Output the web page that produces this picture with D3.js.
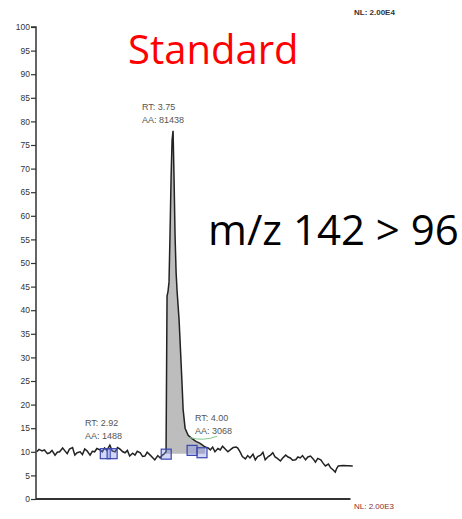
<!DOCTYPE html>
<html><head><meta charset="utf-8">
<script src="https://cdn.jsdelivr.net/npm/d3@7"></script>
<style>body{margin:0;background:#fff}svg{display:block}</style>
</head><body>
<svg id="c" width="462" height="519"></svg>
<script>
// Retention time (min) and relative abundance (%)
const rt = [1.96,1.99,2.03,2.06,2.10,2.13,2.16,2.20,2.23,2.26,2.30,2.33,2.36,2.39,2.43,2.46,2.49,2.53,2.56,2.59,2.62,2.66,2.69,2.72,2.75,2.79,2.82,2.85,2.88,2.92,2.95,2.99,3.02,3.05,3.09,3.12,3.15,3.18,3.22,3.25,3.28,3.32,3.35,3.38,3.41,3.45,3.48,3.51,3.55,3.58,3.61,3.63,
  3.658,3.671,3.684,3.697,3.71,3.724,3.737,3.75,3.763,3.776,3.79,3.803,3.829,3.855,3.869,3.882,3.908,3.948,4.00,4.05,4.106,4.172,
  4.21,4.24,4.27,4.30,4.34,4.37,4.40,4.435,4.47,4.50,4.54,4.58,4.60,4.63,4.66,4.70,4.73,4.76,4.80,4.83,4.86,4.90,4.93,4.96,5.00,5.03,5.06,5.09,5.12,5.16,5.19,5.23,5.26,5.29,5.32,5.36,5.39,5.42,5.45,5.49,5.52,5.555,5.59,5.62,5.65,5.69,5.72,5.75,5.79,5.82,5.85,5.88,5.90,5.92,5.98,6.11];
const abundance = [10.0,10.5,10.2,10.4,9.6,9.8,10.3,9.3,9.9,10.0,10.8,10.2,9.6,10.6,10.9,9.3,9.8,10.0,9.4,10.6,10.2,9.3,10.1,10.0,10.7,10.4,10.0,10.8,10.3,11.4,10.2,10.0,10.9,10.6,10.0,9.8,10.3,9.1,9.7,9.3,10.1,9.8,9.0,9.1,9.9,9.3,8.8,8.3,9.2,8.7,9.3,9.5,
  10.0,43,44,46,56,68,76,78,68,56,48,44,38,29,24,19,15,13.5,12.8,12.2,11.8,11.0,
  10.8,10.4,11.0,10.0,10.7,10.4,11.2,10.6,10.0,10.4,10.9,11.0,10.8,10.0,9.0,8.5,9.2,8.7,9.5,8.3,9.0,9.3,9.9,8.3,9.0,9.3,9.8,8.9,8.6,8.05,8.7,9.3,8.9,8.7,8.2,8.3,8.9,8.7,9.2,8.3,8.9,9.1,8.5,7.8,8.6,8.3,7.6,7.0,7.4,6.6,6.2,5.7,6.5,7.0,7.1,7.0];
const yTicks = d3.range(0, 101, 5);
const peakStart = 3.658, peakEnd = 4.172, peakBase = 9.6;
const peaks = [
  {rt: 3.75, aa: 81438},
  {rt: 2.92, aa: 1488},
  {rt: 4.00, aa: 3068}
];
const markers = [{rt:2.86,v:9.6},{rt:2.95,v:9.6},{rt:3.66,v:9.5},{rt:4.00,v:10.3},{rt:4.13,v:9.8}];

const svg = d3.select("#c");
const x = d3.scaleLinear().domain([1.95, 6.10]).range([36, 352]);
const y = d3.scaleLinear().domain([0, 100]).range([499, 27]);
const axisColor = "#333";

// y axis
const yAxis = d3.axisLeft(y).tickValues(yTicks).tickSize(5).tickPadding(1).tickFormat(d3.format("d"));
const gy = svg.append("g").attr("transform", "translate(36,0)").call(yAxis);
gy.select(".domain").attr("stroke", axisColor).attr("stroke-width", 1.5).attr("d", `M-5,${y(100)}H0V${y(0)}`);
gy.selectAll(".tick line").attr("stroke", axisColor).attr("stroke-width", 1.2);
gy.selectAll(".tick text").attr("font-family", "Liberation Sans, Arial, sans-serif").attr("font-size", 8.5).attr("fill", "#333");

// x axis line
svg.append("line").attr("x1", 36).attr("x2", x(6.08)).attr("y1", y(0)).attr("y2", y(0))
  .attr("stroke", axisColor).attr("stroke-width", 2);

// peak fill
const data = rt.map((t, i) => ({t, v: abundance[i]}));
const peakData = data.filter(d => d.t >= peakStart && d.t <= peakEnd);
svg.append("path").datum(peakData)
  .attr("d", d3.area().x(d => x(d.t)).y0(y(peakBase)).y1(d => y(d.v)))
  .attr("fill", "#bdbdbd");

// trace
svg.append("path").datum(data)
  .attr("d", d3.line().x(d => x(d.t)).y(d => y(d.v)))
  .attr("fill", "none").attr("stroke", "#222").attr("stroke-width", 1.5);

// green baseline annotation
svg.append("path").attr("d", `M${x(3.97)},${y(13.0)}Q${x(4.15)},${y(12.2)} ${x(4.33)},${y(13.3)}`)
  .attr("fill", "none").attr("stroke", "#7fc98a").attr("stroke-width", 1);

// markers
svg.selectAll("rect.m").data(markers).join("rect")
  .attr("x", d => x(d.rt) - 5).attr("y", d => y(d.v) - 5).attr("width", 10).attr("height", 10)
  .attr("fill", "rgba(130,140,230,0.35)").attr("stroke", "#3a46b0").attr("stroke-width", 1.2);

// peak labels
const lblPos = [[142, 110], [85, 426], [195, 421]];
const lf = "Liberation Sans, Arial, sans-serif";
peaks.forEach((p, i) => {
  const [lx, ly] = lblPos[i];
  const t = svg.append("text").attr("x", lx).attr("y", ly).attr("font-family", lf).attr("font-size", 9).attr("fill", "#555");
  t.append("tspan").attr("x", lx).text("RT: " + p.rt.toFixed(2));
  t.append("tspan").attr("x", lx).attr("dy", 13).text("AA: " + p.aa);
});

// NL labels
svg.append("text").attr("x", 354).attr("y", 15).attr("font-family", lf).attr("font-size", 8).attr("font-weight", "bold").attr("fill", "#333").text("NL: 2.00E4");
svg.append("text").attr("x", 354).attr("y", 509).attr("font-family", lf).attr("font-size", 8).attr("fill", "#8a2e2e").text("NL: 2.00E3");

// titles
svg.append("text").attr("x", 128).attr("y", 64).attr("font-family", "Open Sans, Liberation Sans, sans-serif").attr("font-size", 40).attr("fill", "#ff0000").text("Standard");
svg.append("text").attr("x", 208).attr("y", 245).attr("font-family", "Open Sans, Liberation Sans, sans-serif").attr("font-size", 42).attr("fill", "#000").text("m/z 142 > 96");
</script>
</body></html>
